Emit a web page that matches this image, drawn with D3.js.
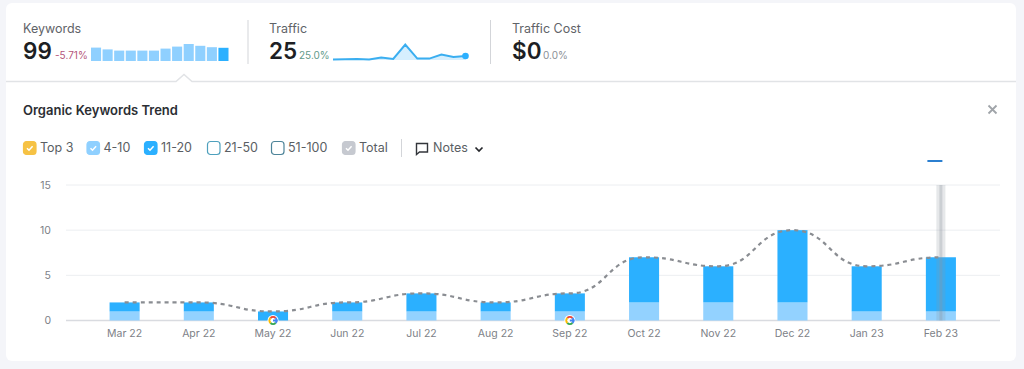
<!DOCTYPE html>
<html>
<head>
<meta charset="utf-8">
<script src="https://cdn.jsdelivr.net/npm/d3@7"></script>
<style>
  html, body { margin: 0; padding: 0; background: #f4f5f9; overflow: hidden; }
  text { font-family: Inter, "Noto Sans", sans-serif; }
</style>
</head>
<body>
<svg id="chart" width="1024" height="369"></svg>
<script>
const months = ["Mar 22", "Apr 22", "May 22", "Jun 22", "Jul 22", "Aug 22", "Sep 22", "Oct 22", "Nov 22", "Dec 22", "Jan 23", "Feb 23"];
const pos4to10 = [1, 1, 0, 1, 1, 1, 1, 2, 2, 2, 1, 1];
const pos11to20 = [1, 1, 1, 1, 2, 1, 2, 5, 4, 8, 5, 6];
const totals = [2, 2, 1, 2, 3, 2, 3, 7, 6, 10, 6, 7];
const yTicks = [0, 5, 10, 15];
const keywordsSpark = [67, 58, 52, 52, 52, 52, 62, 72, 85, 76, 69, 66];
const trafficSpark = [8, 9, 10, 8, 17, 10, 82, 12, 12, 32, 20, 25];
const legendLabels = ["Top 3", "4-10", "11-20", "21-50", "51-100", "Total"];
const googleMonths = ["May 22", "Sep 22"];

const blue = "#2bb0ff", lightBlue = "#8fd0ff";
const svg = d3.select("#chart");

// card
svg.append("rect").attr("x", 6).attr("y", 3).attr("width", 1010).attr("height", 358)
  .attr("rx", 6).attr("fill", "#fff");

function label(x, y, txt, size, fill, weight) {
  return svg.append("text").attr("x", x).attr("y", y).text(txt)
    .attr("font-size", size).attr("fill", fill).attr("font-weight", weight || 400);
}

// header stats
label(23, 33, "Keywords", 12.5, "#5f6368");
label(23, 59, "99", 22.5, "#1d1f24", 600);
label(55, 59, "-5.71%", 10, "#b5557a");
label(269, 33, "Traffic", 12.5, "#5f6368");
label(269, 59, "25", 22.5, "#1d1f24", 600);
label(299, 59, "25.0%", 10, "#5f9a8a");
label(512, 33, "Traffic Cost", 12.5, "#5f6368");
label(512, 59, "$0", 22.5, "#1d1f24", 600);
label(543, 59, "0.0%", 10, "#8b8f96");

svg.selectAll(".sep").data([248, 490.5]).enter().append("line")
  .attr("x1", d => d).attr("x2", d => d).attr("y1", 20).attr("y2", 64)
  .attr("stroke", "#d3d5d9").attr("stroke-width", 1);

// keywords sparkline
const sparkY = d3.scaleLinear().domain([0, 100]).range([61, 41]);
const kwX = d3.scaleBand().domain(d3.range(keywordsSpark.length)).range([91, 228.5]).paddingInner(0.13);
svg.append("g").selectAll("rect").data(keywordsSpark).enter().append("rect")
  .attr("x", (d, i) => kwX(i))
  .attr("y", d => sparkY(d))
  .attr("width", kwX.bandwidth())
  .attr("height", d => sparkY(0) - sparkY(d))
  .attr("fill", (d, i) => i === keywordsSpark.length - 1 ? blue : lightBlue);

// traffic sparkline
const trX = d3.scalePoint().domain(d3.range(trafficSpark.length)).range([333, 465.5]);
svg.append("path").datum(trafficSpark)
  .attr("fill", "#d6effe")
  .attr("d", d3.area().x((d, i) => trX(i)).y0(sparkY(0) - 1).y1(d => sparkY(d)));
svg.append("path").datum(trafficSpark)
  .attr("fill", "none").attr("stroke", "#3aaef0").attr("stroke-width", 2)
  .attr("d", d3.line().x((d, i) => trX(i)).y(d => sparkY(d)));
svg.append("circle").attr("cx", trX(11)).attr("cy", sparkY(25)).attr("r", 3.3).attr("fill", blue);

// header divider with the little notch
svg.append("path")
  .attr("d", "M6,81.5H176L184,74.5L192,81.5H1016")
  .attr("fill", "#fff").attr("stroke", "#e1e3e6").attr("stroke-width", 1.5);

// title
label(23, 115, "Organic Keywords Trend", 13, "#2b2e33", 600);
svg.append("path").attr("d", "M988.5,105.5l8,8m0,-8l-8,8")
  .attr("stroke", "#a0a4a9").attr("stroke-width", 1.8).attr("fill", "none");

// legend
const legendX = [23, 86.5, 144, 207, 271, 342];
const legendFill = ["#f6c244", "#8fd0ff", "#2bb0ff", "#fff", "#fff", "#c6c9d0"];
const legendStroke = ["#f6c244", "#8fd0ff", "#2bb0ff", "#4ea0bd", "#4d8499", "#c6c9d0"];
const legend = svg.append("g").selectAll("g").data(legendLabels).enter().append("g")
  .attr("transform", (d, i) => `translate(${legendX[i]},141)`);
legend.append("rect").attr("x", 0.5).attr("y", 0.5).attr("width", 12.5).attr("height", 13).attr("rx", 3)
  .attr("fill", (d, i) => legendFill[i]).attr("stroke", (d, i) => legendStroke[i]).attr("stroke-width", 1.2);
legend.filter((d, i) => i < 3 || i === 5).append("path")
  .attr("d", "M4,7.2l2,2l3.6,-4").attr("fill", "none").attr("stroke", "#fff").attr("stroke-width", 1.5);
legend.append("text").attr("x", 17).attr("y", 11).text(d => d)
  .attr("font-size", 12.5).attr("fill", "#5a5e63");

svg.append("line").attr("x1", 401.5).attr("x2", 401.5).attr("y1", 139).attr("y2", 157).attr("stroke", "#d3d5d9");
svg.append("path").attr("d", "M416.5,143.5h11v8.5h-8l-3,2.5z")
  .attr("fill", "none").attr("stroke", "#33363b").attr("stroke-width", 1.4);
label(433, 152, "Notes", 12.5, "#5a5e63");
svg.append("path").attr("d", "M475.5,147.5l3.5,3.5l3.5,-3.5")
  .attr("fill", "none").attr("stroke", "#25272b").attr("stroke-width", 1.7);

// main chart
const x = d3.scaleBand().domain(months).range([87.5, 978]).paddingInner(0.595).paddingOuter(0.2975);
const y = d3.scaleLinear().domain([0, 15]).range([320.5, 185]);

const yAxis = d3.axisLeft(y).tickValues(yTicks).tickSize(0).tickPadding(0);
const yG = svg.append("g").attr("transform", "translate(51,0)").call(yAxis);
yG.select(".domain").remove();
yG.selectAll("text").attr("font-size", 10.5).attr("fill", "#7d8187")
  .attr("font-family", "Inter, sans-serif");

svg.append("g").selectAll("line").data(yTicks).enter().append("line")
  .attr("x1", 66).attr("x2", 1000)
  .attr("y1", d => y(d)).attr("y2", d => y(d))
  .attr("stroke", d => d === 0 ? "#d9dbe0" : "#eceef1")
  .attr("stroke-width", d => d === 0 ? 1.4 : 1);

const bars = svg.append("g").selectAll("g").data(months).enter().append("g");
bars.append("rect")
  .attr("x", d => x(d)).attr("width", x.bandwidth())
  .attr("y", (d, i) => y(pos4to10[i]))
  .attr("height", (d, i) => y(0) - y(pos4to10[i]))
  .attr("fill", "#93d2ff");
bars.append("rect")
  .attr("x", d => x(d)).attr("width", x.bandwidth())
  .attr("y", (d, i) => y(pos4to10[i] + pos11to20[i]))
  .attr("height", (d, i) => y(pos4to10[i]) - y(pos4to10[i] + pos11to20[i]))
  .attr("fill", blue);

// total line
svg.append("path").datum(totals)
  .attr("fill", "none").attr("stroke", "#8a8d92").attr("stroke-width", 2.2)
  .attr("stroke-dasharray", "4 4")
  .attr("d", d3.line().x((d, i) => x(months[i]) + x.bandwidth() / 2).y(d => y(d)).curve(d3.curveBumpX));

// x axis labels
const xAxis = d3.axisBottom(x).tickSize(0).tickPadding(0);
const xG = svg.append("g").attr("transform", "translate(0,330)").call(xAxis);
xG.select(".domain").remove();
xG.selectAll("text").attr("font-size", 10.5).attr("fill", "#7d8187")
  .attr("font-family", "Inter, sans-serif");

// google markers
const gColors = ["#ea4335", "#4285f4", "#34a853", "#fbbc05"];
const gArc = d3.arc().innerRadius(2.6).outerRadius(4.6);
googleMonths.forEach(m => {
  const g = svg.append("g").attr("transform", `translate(${x(m) + x.bandwidth() / 2},320.5)`);
  g.append("circle").attr("r", 5.5).attr("fill", "#fff");
  g.selectAll("path").data(gColors).enter().append("path")
    .attr("fill", d => d)
    .attr("d", (d, i) => gArc({ startAngle: i * Math.PI / 2 - Math.PI / 4, endAngle: (i + 1) * Math.PI / 2 - Math.PI / 4 }));
  g.append("rect").attr("x", 0).attr("y", -1).attr("width", 4.6).attr("height", 2).attr("fill", "#4285f4");
});

// hover cursor on the last month
const lastX = x("Feb 23") + x.bandwidth() / 2;
svg.append("rect").attr("x", lastX - 4.5).attr("width", 9).attr("y", y(15)).attr("height", y(0) - y(15))
  .attr("fill", "#8e969e").attr("opacity", 0.22);
svg.append("rect").attr("x", lastX - 1.5).attr("width", 3).attr("y", y(15)).attr("height", y(0) - y(15))
  .attr("fill", "#8e969e").attr("opacity", 0.3);
svg.append("line").attr("x1", lastX - 13.5).attr("x2", lastX + 1.5).attr("y1", 161).attr("y2", 161)
  .attr("stroke", "#2b7fd0").attr("stroke-width", 2);
</script>
</body>
</html>
